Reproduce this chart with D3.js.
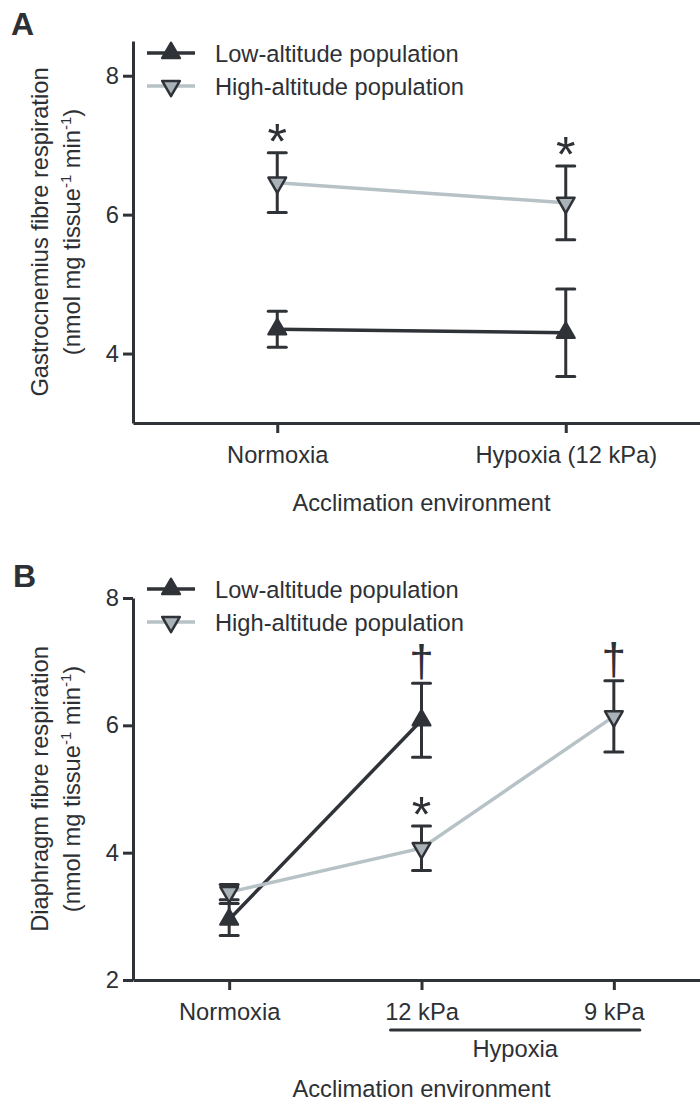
<!DOCTYPE html>
<html>
<head>
<meta charset="utf-8">
<script src="https://cdn.jsdelivr.net/npm/d3@7"></script>
<style>
  html, body { margin: 0; padding: 0; background: #fff; }
  svg { display: block; }
  text { font-family: "Liberation Sans", Arial, Helvetica, sans-serif; fill: #2d3035; }
</style>
</head>
<body>
<svg id="chart" width="700" height="1104"></svg>
<script>
// ---------------- DATA ----------------
// Panel A: gastrocnemius
const catsA = ["Normoxia", "Hypoxia (12 kPa)"];
const lowMeanA  = [4.35, 4.30];
const lowSemA   = [0.26, 0.63];
const highMeanA = [6.46, 6.17];
const highSemA  = [0.43, 0.53];
const yTicksA   = [4, 6, 8];
const starsA    = ["*", "*"];          // above high-altitude points

// Panel B: diaphragm
const catsB = ["Normoxia", "12 kPa", "9 kPa"];
const lowMeanB  = [2.95, 6.08, null];
const lowSemB   = [0.25, 0.58, null];
const highMeanB = [3.38, 4.07, 6.14];
const highSemB  = [0.12, 0.35, 0.56];
const yTicksB   = [2, 4, 6, 8];
const starsB    = [null, "*", null];   // above high-altitude points
const daggersLowB  = [null, "\u2020", null];
const daggersHighB = [null, null, "\u2020"];

const seriesNames = ["Low-altitude population", "High-altitude population"];
const hypoxiaGroup = ["12 kPa", "9 kPa"];

// ---------------- STYLE ----------------
const DARK = "#2f3237";
const GREYLINE = "#b7c2c6";
const GREYFILL = "#a8b2b7";
const FONT = 23.7;

const svg = d3.select("#chart");

function drawMarker(g, cx, cy, down) {
  const p = d3.symbol().type(d3.symbolTriangle).size(135)();
  g.append("path").attr("d", p)
    .attr("transform", `translate(${cx},${cy}) rotate(${down ? 180 : 0})`)
    .attr("fill", down ? GREYFILL : DARK)
    .attr("stroke", DARK).attr("stroke-width", 2.5).attr("stroke-linejoin", "round");
}

function panel(cfg) {
  const g = svg.append("g");
  const x = d3.scalePoint().domain(cfg.cats).range([133, 710]).padding(0.5);
  const y = d3.scaleLinear().domain(cfg.yDomain).range(cfg.yRange);

  // y axis
  const yAxis = g.append("g").attr("transform", "translate(133,0)")
    .call(d3.axisLeft(y).tickValues(cfg.yTicks).tickFormat(d3.format("d"))
      .tickSize(10).tickPadding(4).tickSizeOuter(0));
  yAxis.select(".domain").attr("stroke", DARK).attr("stroke-width", 3);
  yAxis.selectAll(".tick line").attr("stroke", DARK).attr("stroke-width", 3);
  yAxis.selectAll(".tick text").attr("font-size", FONT).attr("fill", DARK)
    .attr("font-family", "Liberation Sans, Arial, sans-serif");

  // x axis
  const xAxis = g.append("g").attr("transform", `translate(0,${cfg.yRange[0]})`)
    .call(d3.axisBottom(x).tickSize(10).tickPadding(13).tickSizeOuter(0));
  xAxis.select(".domain").attr("stroke", DARK).attr("stroke-width", 3);
  xAxis.selectAll(".tick line").attr("stroke", DARK).attr("stroke-width", 3);
  xAxis.selectAll(".tick text").attr("font-size", FONT).attr("fill", DARK)
    .attr("font-family", "Liberation Sans, Arial, sans-serif");

  const series = [
    { mean: cfg.lowMean, sem: cfg.lowSem, line: DARK, fill: DARK, down: false },
    { mean: cfg.highMean, sem: cfg.highSem, line: GREYLINE, fill: GREYFILL, down: true }
  ];

  // error bars
  series.forEach(s => {
    cfg.cats.forEach((c, i) => {
      if (s.mean[i] == null) return;
      const cx = x(c), top = y(s.mean[i] + s.sem[i]), bot = y(s.mean[i] - s.sem[i]);
      g.append("line").attr("x1", cx).attr("x2", cx).attr("y1", top).attr("y2", bot)
        .attr("stroke", DARK).attr("stroke-width", 3);
      [top, bot].forEach(yy => g.append("line").attr("x1", cx - 9).attr("x2", cx + 9)
        .attr("y1", yy).attr("y2", yy).attr("stroke", DARK).attr("stroke-width", 3)
        .attr("stroke-linecap", "round"));
    });
  });

  // lines
  series.forEach(s => {
    const pts = cfg.cats.map((c, i) => [c, s.mean[i]]).filter(d => d[1] != null);
    g.append("path").datum(pts)
      .attr("d", d3.line().x(d => x(d[0])).y(d => y(d[1])))
      .attr("fill", "none").attr("stroke", s.line).attr("stroke-width", 3.5);
  });

  // markers
  series.forEach(s => {
    cfg.cats.forEach((c, i) => {
      if (s.mean[i] == null) return;
      drawMarker(g, x(c), y(s.mean[i]), s.down);
    });
  });

  // significance stars (centre ~23px above the upper cap)
  cfg.cats.forEach((c, i) => {
    if (!cfg.stars || !cfg.stars[i]) return;
    const fs = 50;
    const cyStar = y(cfg.highMean[i] + cfg.highSem[i]) - 23;
    g.append("text").attr("x", x(c)).attr("y", cyStar + 0.58 * fs)
      .attr("text-anchor", "middle").attr("font-size", fs).attr("fill", DARK)
      .text(cfg.stars[i]);
  });
  // daggers (just above the upper cap)
  const dag = (arr, mean, sem) => {
    cfg.cats.forEach((c, i) => {
      if (!arr || !arr[i]) return;
      const base = y(mean[i] + sem[i]) - 7;
      g.append("text").attr("x", x(c)).attr("y", base)
        .attr("text-anchor", "middle").attr("font-size", 44).attr("fill", DARK)
        .text(arr[i]);
    });
  };
  dag(cfg.daggersLow, cfg.lowMean, cfg.lowSem);
  dag(cfg.daggersHigh, cfg.highMean, cfg.highSem);

  // legend
  seriesNames.forEach((name, k) => {
    const ly = cfg.legendY[k];
    const s = series[k];
    g.append("line").attr("x1", 147).attr("x2", 195).attr("y1", ly).attr("y2", ly)
      .attr("stroke", s.line).attr("stroke-width", 3.5);
    drawMarker(g, 171, ly, s.down);
    g.append("text").attr("x", 215).attr("y", ly + 8.5).attr("font-size", FONT).text(name);
  });

  // panel letter
  g.append("text").attr("x", cfg.letterPos[0]).attr("y", cfg.letterPos[1])
    .attr("font-size", 32).attr("font-weight", "bold").text(cfg.letter);

  // y title
  const ymid = (cfg.yRange[0] + cfg.yRange[1]) / 2;
  g.append("text").attr("transform", `translate(48,${ymid}) rotate(-90)`)
    .attr("text-anchor", "middle").attr("font-size", FONT).text(cfg.yTitle);
  const t2 = g.append("text").attr("transform", `translate(80,${ymid}) rotate(-90)`)
    .attr("text-anchor", "middle").attr("font-size", FONT);
  t2.append("tspan").text("(nmol mg tissue");
  t2.append("tspan").attr("dy", -9).attr("font-size", 15).text("-1");
  t2.append("tspan").attr("dy", 9).text(" min");
  t2.append("tspan").attr("dy", -9).attr("font-size", 15).text("-1");
  t2.append("tspan").attr("dy", 9).text(")");

  // x title
  g.append("text").attr("x", 421.5).attr("y", cfg.xTitleY).attr("text-anchor", "middle")
    .attr("font-size", FONT).text("Acclimation environment");

  return { g, x, y };
}

panel({
  cats: catsA, yDomain: [3, 8.5], yRange: [423, 41], yTicks: yTicksA,
  lowMean: lowMeanA, lowSem: lowSemA, highMean: highMeanA, highSem: highSemA,
  stars: starsA, legendY: [53, 86], letter: "A", letterPos: [11, 35],
  yTitle: "Gastrocnemius fibre respiration", xTitleY: 511
});

const pB = panel({
  cats: catsB, yDomain: [2, 8], yRange: [980, 598], yTicks: yTicksB,
  lowMean: lowMeanB, lowSem: lowSemB, highMean: highMeanB, highSem: highSemB,
  stars: starsB, daggersLow: daggersLowB, daggersHigh: daggersHighB,
  legendY: [589, 622], letter: "B", letterPos: [13, 587],
  yTitle: "Diaphragm fibre respiration", xTitleY: 1097
});

// Hypoxia bracket under panel B
const bx1 = pB.x(hypoxiaGroup[0]) - 31, bx2 = pB.x(hypoxiaGroup[1]) + 26;
pB.g.append("line").attr("x1", bx1).attr("x2", bx2).attr("y1", 1030).attr("y2", 1030)
  .attr("stroke", DARK).attr("stroke-width", 3).attr("stroke-linecap", "round");
pB.g.append("text").attr("x", (bx1 + bx2) / 2).attr("y", 1057).attr("text-anchor", "middle")
  .attr("font-size", FONT).text("Hypoxia");
</script>
</body>
</html>
